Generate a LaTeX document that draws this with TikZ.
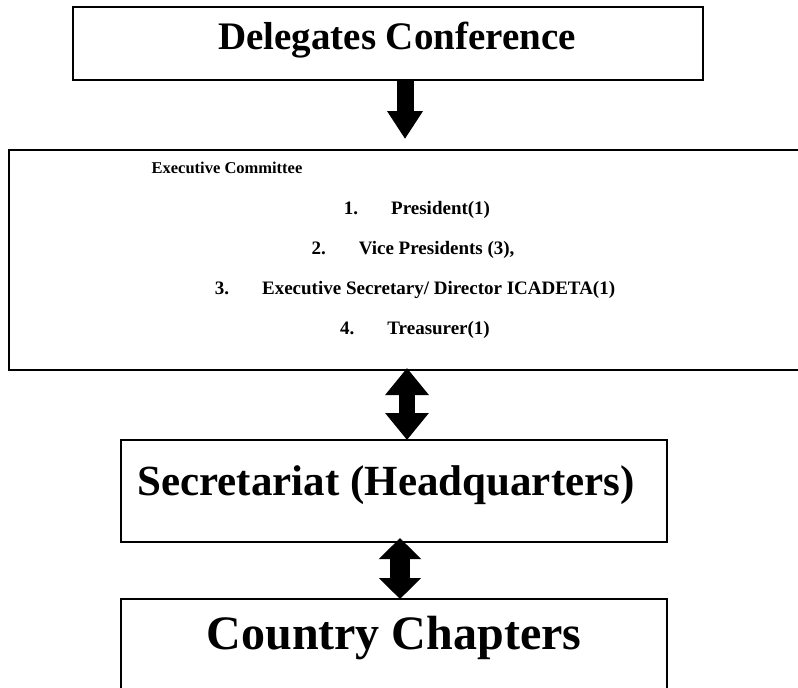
\documentclass[tikz,border=0pt]{standalone}
\usepackage{fontspec}
\setmainfont{Liberation Serif}
\usetikzlibrary{arrows.meta}
\begin{document}
\begin{tikzpicture}[x=1pt,y=-1pt,
  box/.style={draw=black,line width=2pt,inner sep=0pt},
  small/.style={font=\fontsize{16.5}{18}\selectfont\bfseries,inner sep=0pt},
  item/.style={font=\fontsize{19}{21}\selectfont\bfseries,inner sep=0pt},
  fatarrow/.style={line width=17pt,-{Triangle[width=34pt,length=28pt]}},
  fatdouble/.style={line width=16pt,{Triangle[width=42pt,length=27pt]}-{Triangle[width=42pt,length=27pt]}},
  fatdoubleb/.style={line width=20pt,{Triangle[width=41pt,length=21pt]}-{Triangle[width=41pt,length=21pt]}}]
\useasboundingbox (0,0) rectangle (798,688);
\clip (0,0) rectangle (798,688);
\fill[white] (0,0) rectangle (798,688);
% boxes
\node[box,minimum width=630pt,minimum height=73pt] (del) at (388,43.5) {};
\node[box,minimum width=812pt,minimum height=220pt] (exec) at (415,260) {};
\node[box,minimum width=546pt,minimum height=102pt] (sec) at (394,491) {};
\node[box,minimum width=546pt,minimum height=120pt] (cc) at (394,659) {};
% texts
\node[font=\fontsize{39}{42}\selectfont\bfseries,inner sep=0pt] (tdel) at (397,40) {Delegates Conference};
\node[small] (tec) at (227,168) {Executive Committee};
\node[item] (i1) at (417,210) {1.\hspace{33pt}President(1)};
\node[item] (i2) at (413,250) {2.\hspace{33pt}Vice Presidents (3),};
\node[item] (i3) at (415,290) {3.\hspace{33pt}Executive Secretary/ Director ICADETA(1)};
\node[item] (i4) at (415,330) {4.\hspace{33pt}Treasurer(1)};
\node[font=\fontsize{43}{46}\selectfont\bfseries,inner sep=0pt] (tsec) at (386,485) {Secretariat (Headquarters)};
\node[font=\fontsize{48}{52}\selectfont\bfseries,inner sep=0pt] (tcc) at (394,638) {Country Chapters};
% arrows
\draw[fatarrow] ([xshift=17pt]del.south) -- ([xshift=17pt,yshift=10pt]del.south |- exec.north);
\draw[fatdouble] ([xshift=-8pt,yshift=3pt]exec.south) -- ([xshift=13pt,yshift=-1pt]sec.north);
\draw[fatdoubleb] ([xshift=6pt,yshift=5pt]sec.south) -- ([xshift=6pt,yshift=-1pt]sec.south |- cc.north);
\end{tikzpicture}
\end{document}
